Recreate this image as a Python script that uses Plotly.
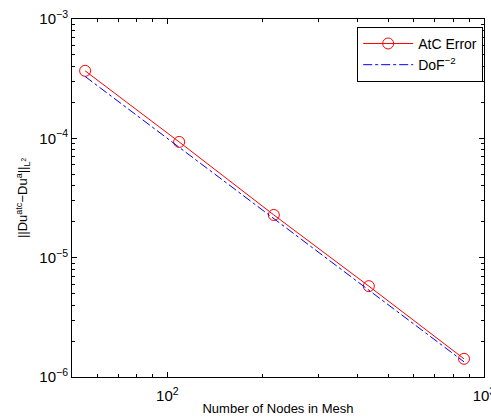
import plotly.graph_objects as go
import math

nodes = [55, 109, 217, 433, 865]
atc_error = [3.68e-4, 9.33e-5, 2.28e-5, 5.77e-6, 1.42e-6]
dof_ref = [3.3e-4, 8.4e-5, 2.12e-5, 5.33e-6, 1.34e-6]

x_tickvals = [100, 1000]
x_ticktext = ["10<sup>2</sup>", "10<sup>3</sup>"]
y_tickvals = [1e-6, 1e-5, 1e-4, 1e-3]
y_ticktext = ["10<sup>\u22126</sup>", "10<sup>\u22125</sup>", "10<sup>\u22124</sup>", "10<sup>\u22123</sup>"]

font = "Liberation Sans, Arial, sans-serif"

fig = go.Figure()
fig.add_trace(go.Scatter(
    x=nodes, y=atc_error, mode="lines+markers", name="AtC Error",
    line=dict(color="#ff0000", width=1),
    marker=dict(symbol="circle-open", size=11, color="#ff0000", line=dict(width=1)),
))
fig.add_trace(go.Scatter(
    x=nodes, y=dof_ref, mode="lines", name="DoF<sup>\u22122</sup>",
    line=dict(color="#0000ff", width=1, dash="dashdot"),
))

axis_common = dict(
    type="log", showgrid=False, zeroline=False,
    showline=True, linecolor="black", linewidth=1, mirror="allticks",
    ticks="inside", ticklen=5, tickcolor="black", tickwidth=1,
    tickfont=dict(family=font, size=15, color="black"),
    ticklabeloverflow="allow",
)

fig.update_xaxes(
    **axis_common,
    range=[math.log10(50), 3.0002],
    tickmode="array", tickvals=x_tickvals, ticktext=x_ticktext,
    ticklabelstandoff=5,
    minor=dict(ticks="inside", ticklen=3, tickcolor="black", tickwidth=1,
               tickvals=[60, 70, 80, 90, 200, 300, 400, 500, 600, 700, 800, 900]),
    title=dict(text="Number of Nodes in Mesh", font=dict(family=font, size=13, color="black"), standoff=0),
)
fig.update_yaxes(
    **axis_common,
    range=[-6.0002, -2.9998],
    tickmode="array", tickvals=y_tickvals, ticktext=y_ticktext,
    minor=dict(ticks="inside", ticklen=3, tickcolor="black", tickwidth=1,
               tickvals=[m * 10 ** e for e in (-6, -5, -4) for m in range(2, 10)]),
    title=dict(text="||Du<sup>atc</sup>\u2212Du<sup>a</sup>||<sub>L<sup>2</sup></sub>",
               font=dict(family=font, size=13, color="black"), standoff=8),
)

fig.update_layout(
    width=491, height=419,
    margin=dict(l=72, r=7, t=19, b=42, autoexpand=False),
    paper_bgcolor="white", plot_bgcolor="white",
    showlegend=True,
    legend=dict(
        x=0.998, y=0.978, xanchor="right", yanchor="top",
        bgcolor="white", bordercolor="black", borderwidth=1,
        font=dict(family=font, size=14, color="black"),
        tracegroupgap=0, itemwidth=50,
    ),
)

fig.write_html("out.html", config={"displayModeBar": False},
               post_script="document.body.style.margin='0';document.body.style.padding='0';")
